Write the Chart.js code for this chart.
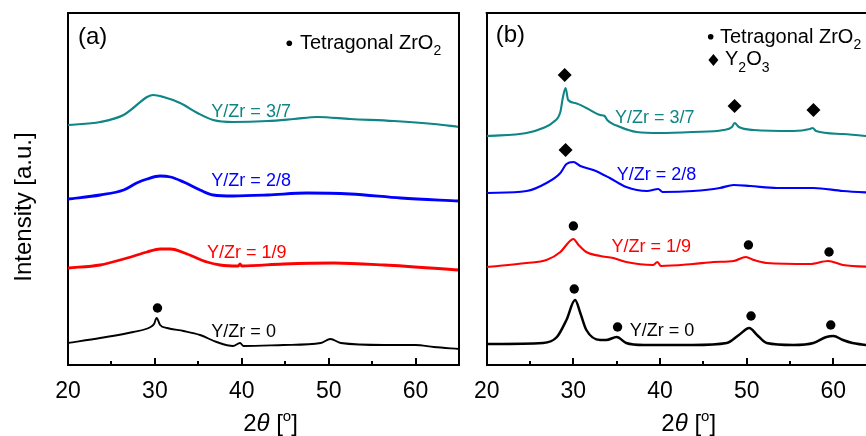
<!DOCTYPE html>
<html>
<head>
<meta charset="utf-8">
<script src="https://cdn.jsdelivr.net/npm/chart.js@4.4.0/dist/chart.umd.min.js"></script>
<style>
  html, body { margin: 0; padding: 0; background: #fff; overflow: hidden; }
  #wrap { position: relative; width: 866px; height: 436px; overflow: hidden; }
  #chartA { position: absolute; left: 0; top: 0; }
  #chartB { position: absolute; left: 466px; top: 0; }
</style>
</head>
<body>
<div id="wrap">
  <canvas id="chartA" width="470" height="436"></canvas>
  <canvas id="chartB" width="420" height="436"></canvas>
</div>
<script>
// x axis (2 theta, degrees)
const xTicks = [20, 30, 40, 50, 60];
const xMinor = [25, 35, 45, 55, 65];

// panel (a) - as prepared
const aTeal_tt = [20, 23.7, 26.4, 27.5, 29.1, 29.8, 31, 32.9, 34.9, 36.7, 39, 43, 46, 48.7, 52.5, 57.5, 62.1, 65];
const aTeal_int = [240, 243, 250, 257, 268, 270, 268, 262, 252, 245, 243, 244, 246, 248, 246, 244, 241, 238];
const aBlue_tt = [20, 23.7, 26.4, 27.9, 29.1, 30.6, 31.8, 33.3, 35.2, 36.7, 39, 43, 47.5, 52.5, 58.3, 65];
const aBlue_int = [166, 170, 175, 182, 186, 189, 188, 183, 175, 170, 169, 170, 172, 171, 167, 164];
const aRed_tt = [20, 23.7, 26.8, 29.1, 30.6, 31.8, 33.7, 36, 37.5, 39.6, 39.8, 40.0, 44.8, 50.6, 56.4, 65];
const aRed_int = [97, 100, 107, 113, 116, 116, 111, 103, 100, 99, 101, 99, 101, 102, 100, 95];
const aBlack_tt = [20, 23.7, 27.5, 29.5, 29.9, 30.2, 30.6, 31.4, 33.3, 35.2, 37.1, 39, 39.8, 40.2, 44.8, 49.1, 50.2, 51.4, 56.4, 60, 62.1, 65];
const aBlack_int = [22, 27, 33, 38, 41, 47, 40, 37, 34, 30, 23, 19, 22, 19, 20, 22, 26, 22, 20, 20, 18, 16];
const aDot_tt = [30.3];
const aDot_int = [57];

// panel (b) - calcined
const bTeal_tt = [20, 24.6, 26.5, 27.7, 28.5, 28.8, 29.1, 29.4, 30.2, 31.5, 33.1, 33.6, 33.9, 35.4, 37.3, 40, 43.8, 47.3, 48.3, 48.6, 49.1, 50.8, 55.4, 57.3, 57.6, 58, 61.1, 65];
const bTeal_int = [229, 232, 237, 243, 253, 268, 277, 265, 262, 257, 250, 249, 245, 238, 233, 232, 233, 235, 238, 242, 238, 235, 234, 236, 237, 234, 231, 228];
const bBlue_tt = [20, 24.6, 26.9, 28.5, 29.2, 30, 30.8, 32.3, 34.2, 36.1, 38.5, 39.8, 40.3, 43.8, 46.9, 48.5, 50.4, 53.5, 57.7, 61.1, 65];
const bBlue_int = [172, 174, 182, 192, 201, 203, 199, 195, 187, 178, 174, 176, 173, 174, 177, 180, 179, 177, 177, 174, 172];
const bRed_tt = [20, 24.6, 26.9, 28.5, 29.6, 30, 30.6, 31.5, 33.1, 34.6, 36.1, 39.2, 39.7, 40.1, 43.8, 46.2, 48.5, 49.9, 50.8, 52.3, 57.3, 59.4, 61.1, 65];
const bRed_int = [98, 102, 105, 113, 124, 126, 120, 113, 109, 107, 103, 100, 103, 99, 101, 103, 104, 108, 105, 102, 101, 104, 100, 98];
const bBlack_tt = [20, 26.5, 28.1, 29.2, 30.2, 30.8, 31.5, 33.1, 33.8, 35, 36.1, 38.1, 43.8, 47.7, 49.1, 50.3, 51.2, 52.3, 55.4, 57.7, 59.2, 60, 61.1, 62.2, 65];
const bBlack_int = [21, 22, 28, 45, 65, 52, 35, 25, 25, 28, 22, 20, 20, 22, 30, 37, 30, 22, 20, 22, 28, 29, 25, 22, 19];
const bDot_tt = [30.0, 50.2, 59.5, 30.1, 35.1, 50.5, 59.7];
const bDot_int = [139, 120, 113, 76, 38, 49, 40];
const bDia_tt = [29.0, 29.1, 48.6, 57.7];
const bDia_int = [290, 215, 259, 255];

const FONT = "'Liberation Sans', Arial, sans-serif";
const TEAL = '#0f8585';

// series labels, in data units
const labelsA = [
    { text: 'Y/Zr = 3/7', x: 36.5, y: 253, color: TEAL },
    { text: 'Y/Zr = 2/8', x: 36.5, y: 184, color: '#0000ff' },
    { text: 'Y/Zr = 1/9', x: 36.0, y: 112, color: '#ff0000' },
    { text: 'Y/Zr = 0', x: 36.5, y: 33, color: '#000' }
];
const labelsB = [
    { text: 'Y/Zr = 3/7', x: 34.8, y: 247, color: TEAL },
    { text: 'Y/Zr = 2/8', x: 35.0, y: 190, color: '#0000ff' },
    { text: 'Y/Zr = 1/9', x: 34.4, y: 118, color: '#ff0000' },
    { text: 'Y/Zr = 0', x: 36.5, y: 34, color: '#000' }
];

function pts(tt, iv) {
    return tt.map((t, i) => ({ x: t, y: iv[i] }));
}

function lineSet(tt, iv, color, w) {
    return { data: pts(tt, iv), borderColor: color, borderWidth: w, pointRadius: 0, fill: false };
}

function markSet(tt, iv, style, r) {
    return {
        data: pts(tt, iv), showLine: false, pointStyle: style, pointRadius: r,
        pointBackgroundColor: '#000', pointBorderWidth: 0, borderColor: '#000'
    };
}

// draws text pieces in sequence, some of them subscript / italic
function drawRuns(ctx, x, y, runs) {
    runs.forEach(r => {
        ctx.font = (r.italic ? 'italic ' : '') + r.size + 'px ' + FONT;
        ctx.fillText(r.t, x, y + (r.dy || 0));
        x += ctx.measureText(r.t).width;
    });
}

function runsWidth(ctx, runs) {
    let w = 0;
    runs.forEach(r => {
        ctx.font = (r.italic ? 'italic ' : '') + r.size + 'px ' + FONT;
        w += ctx.measureText(r.t).width;
    });
    return w;
}

const decor = {
    id: 'decor',
    afterDraw(chart, args, opts) {
        const ctx = chart.ctx;
        const a = chart.chartArea;
        const xs = chart.scales.x, ys = chart.scales.y;
        ctx.save();
        ctx.strokeStyle = '#000';
        ctx.fillStyle = '#000';
        ctx.lineWidth = 2;
        // top and right frame
        ctx.beginPath();
        ctx.moveTo(a.left - 1, a.top);
        ctx.lineTo(a.right, a.top);
        ctx.lineTo(a.right, a.bottom + 1);
        ctx.stroke();
        // inward ticks
        ctx.beginPath();
        xTicks.forEach(v => {
            const px = Math.round(xs.getPixelForValue(v));
            ctx.moveTo(px, a.bottom); ctx.lineTo(px, a.bottom - 7);
        });
        xMinor.forEach(v => {
            const px = Math.round(xs.getPixelForValue(v));
            ctx.moveTo(px, a.bottom); ctx.lineTo(px, a.bottom - 4);
        });
        ctx.stroke();

        // series labels
        ctx.textBaseline = 'middle';
        ctx.textAlign = 'left';
        ctx.font = '18px ' + FONT;
        opts.labels.forEach(l => {
            ctx.fillStyle = l.color;
            ctx.fillText(l.text, xs.getPixelForValue(l.x), ys.getPixelForValue(l.y));
        });
        ctx.fillStyle = '#000';

        // panel letter
        ctx.textBaseline = 'alphabetic';
        ctx.font = '24px ' + FONT;
        ctx.fillText(opts.letter, a.left + opts.letterDx, a.top + opts.letterDy);

        // legend
        const lg = opts.legend;
        ctx.beginPath();
        ctx.arc(a.left + lg.dotX, a.top + lg.dotY, 2.8, 0, Math.PI * 2);
        ctx.fill();
        drawRuns(ctx, a.left + lg.textX, a.top + lg.textY, [
            { t: 'Tetragonal ZrO', size: 20 },
            { t: '2', size: 14, dy: 6 }
        ]);
        if (lg.dia) {
            const dx = a.left + lg.diaX, dy = a.top + lg.diaY, r = 6;
            ctx.beginPath();
            ctx.moveTo(dx - r + 1, dy); ctx.lineTo(dx, dy - r); ctx.lineTo(dx + r - 1, dy); ctx.lineTo(dx, dy + r);
            ctx.closePath();
            ctx.fill();
            drawRuns(ctx, a.left + lg.diaTextX, a.top + lg.diaTextY, [
                { t: 'Y', size: 20 },
                { t: '2', size: 14, dy: 7 },
                { t: 'O', size: 20 },
                { t: '3', size: 14, dy: 7 }
            ]);
        }

        // x axis title: 2θ [°]
        const runs = [
            { t: '2', size: 24 },
            { t: 'θ', size: 24, italic: true },
            { t: ' [', size: 24 },
            { t: 'o', size: 15, dy: -10 },
            { t: ']', size: 24 }
        ];
        const cx = (a.left + a.right) / 2 + 7;
        drawRuns(ctx, cx - runsWidth(ctx, runs) / 2, 431, runs);

        // y axis title
        if (opts.yTitle) {
            ctx.translate(31, 207);
            ctx.rotate(-Math.PI / 2);
            ctx.textAlign = 'center';
            ctx.font = '24px ' + FONT;
            ctx.fillText('Intensity [a.u.]', 0, 0);
        }
        ctx.restore();
    }
};

function makeChart(id, datasets, yWidth, padRight, decorOpts) {
    return new Chart(document.getElementById(id), {
        type: 'line',
        data: { datasets: datasets },
        plugins: [decor],
        options: {
            responsive: false,
            animation: false,
            devicePixelRatio: 1,
            layout: { padding: { left: 0, right: padRight, top: 13, bottom: 0 } },
            elements: { line: { cubicInterpolationMode: 'monotone' } },
            plugins: {
                legend: { display: false },
                tooltip: { enabled: false },
                decor: decorOpts
            },
            scales: {
                x: {
                    type: 'linear', min: 20, max: 65,
                    afterBuildTicks: s => { s.ticks = xTicks.map(v => ({ value: v })); },
                    afterFit: s => { s.height = 71; },
                    grid: { display: false },
                    border: { display: true, color: '#000', width: 2 },
                    ticks: { font: { family: FONT, size: 23 }, color: '#000', padding: 5, maxRotation: 0, autoSkip: false }
                },
                y: {
                    min: 0, max: 352,
                    afterFit: s => { s.width = yWidth; },
                    grid: { display: false },
                    border: { display: true, color: '#000', width: 2 },
                    ticks: { display: false }
                }
            }
        }
    });
}

makeChart('chartA', [
    lineSet(aTeal_tt, aTeal_int, TEAL, 2.2),
    lineSet(aBlue_tt, aBlue_int, '#0000ff', 2.8),
    lineSet(aRed_tt, aRed_int, '#ff0000', 2.8),
    lineSet(aBlack_tt, aBlack_int, '#000', 1.9),
    markSet(aDot_tt, aDot_int, 'circle', 4.7)
], 68, 11, {
    labels: labelsA, letter: '(a)', letterDx: 10, letterDy: 31, yTitle: true,
    legend: { dotX: 221.3, dotY: 30.3, textX: 232, textY: 36.3 }
});

makeChart('chartB', [
    lineSet(bTeal_tt, bTeal_int, TEAL, 2.1),
    lineSet(bBlue_tt, bBlue_int, '#0000ff', 2.1),
    lineSet(bRed_tt, bRed_int, '#ff0000', 2.1),
    lineSet(bBlack_tt, bBlack_int, '#000', 2.5),
    markSet(bDot_tt, bDot_int, 'circle', 4.7),
    markSet(bDia_tt, bDia_int, 'rectRot', 7)
], 20.7, 9.3, {
    labels: labelsB, letter: '(b)', letterDx: 9, letterDy: 29, yTitle: false,
    legend: {
        dotX: 224, dotY: 23.7, textX: 233.3, textY: 30.3,
        dia: true, diaX: 226.7, diaY: 47, diaTextX: 238.3, diaTextY: 52
    }
});
</script>
</body>
</html>
